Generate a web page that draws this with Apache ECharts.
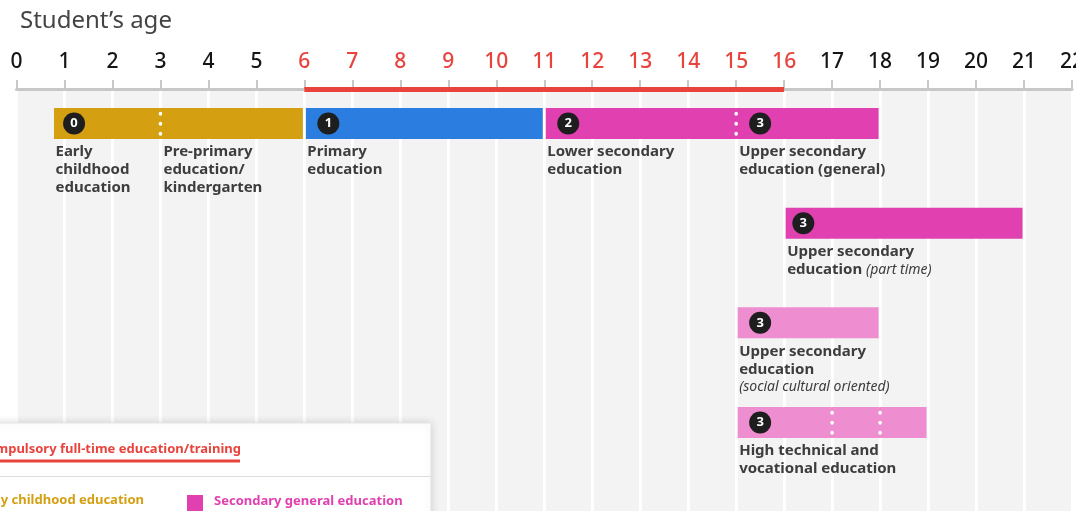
<!DOCTYPE html>
<html>
<head>
<meta charset="utf-8">
<script src="https://cdn.jsdelivr.net/npm/echarts@6/dist/echarts.min.js"></script>
<style>
  html, body { margin: 0; padding: 0; background: #fff; }
  #chart { width: 1076px; height: 511px; }
</style>
</head>
<body>
<div id="chart"></div>
<script>
// ages on the top axis
const ageMin = 0;
const ageMax = 22;
const compulsoryFrom = 6;
const compulsoryTo = 16;

// bars: start age, end age, row, kind
const barStart = [0.75, 6, 11, 16, 15, 15];
const barEnd = [6, 11, 18, 21, 18, 19];
const barRow = [0, 0, 0, 1, 2, 3];
const barKind = ['early', 'primary', 'secondary', 'secondary', 'vocational', 'vocational'];

// ISCED level badges
const badgeAge = [1.2, 6.5, 11.5, 15.5, 16.4, 15.5, 15.5];
const badgeRow = [0, 0, 0, 0, 1, 2, 3];
const badgeLevel = [0, 1, 2, 3, 3, 3, 3];

// dotted splits inside a bar
const splitAge = [3, 15, 17, 18];
const splitRow = [0, 0, 3, 3];

// labels under the bars
const labelAge = [0.75, 3, 6, 11, 15, 16, 15, 15];
const labelRow = [0, 0, 0, 0, 0, 1, 2, 3];
const labelText = [
  'Early\nchildhood\neducation',
  'Pre-primary\neducation/\nkindergarten',
  'Primary\neducation',
  'Lower secondary\neducation',
  'Upper secondary\neducation (general)',
  'Upper secondary\neducation {i|(part time)}',
  'Upper secondary\neducation\n{i|(social cultural oriented)}',
  'High technical and\nvocational education'
];

const kindColor = {
  early: '#d4a012',
  primary: '#2b7de0',
  secondary: '#e040b0',
  vocational: '#ee8dd0'
};
const red = '#e8433c';
const ink = '#3d3d3d';
const font = '"Noto Sans", sans-serif';

const chart = echarts.init(document.getElementById('chart'));

chart.setOption({
  animation: false,
  backgroundColor: '#fff',
  title: {
    text: 'Student’s age',
    left: 15,
    top: 4,
    textStyle: { fontFamily: font, fontSize: 24, fontWeight: 'normal', color: '#444' }
  },
  grid: {
    left: 16.5, right: 4, top: 89, bottom: 0,
    outerBoundsMode: 'none',
    containLabel: false,
    show: true, backgroundColor: '#f3f3f3', borderWidth: 0
  },
  xAxis: {
    type: 'value',
    position: 'top',
    min: ageMin, max: ageMax, interval: 1,
    axisLine: { show: true, onZero: false, lineStyle: { color: '#c8c8c8', width: 3 } },
    axisTick: { show: true, length: 9, lineStyle: { color: '#c8c8c8', width: 2 } },
    axisLabel: {
      margin: 16,
      fontFamily: font,
      fontSize: 21,
      fontWeight: 500,
      color: function (v) {
        return v >= compulsoryFrom && v <= compulsoryTo ? red : '#151515';
      }
    },
    splitLine: { show: true, lineStyle: { color: '#ffffff', width: 3 } }
  },
  yAxis: {
    type: 'value',
    inverse: true,
    min: -0.346, max: 3.888,
    show: false
  },
  series: [
    {
      type: 'custom',
      name: 'bars',
      clip: false,
      data: barStart.map((s, i) => [s, barEnd[i], barRow[i], i]),
      renderItem: function (params, api) {
        const a = api.coord([api.value(0), api.value(2)]);
        const b = api.coord([api.value(1), api.value(2)]);
        const h = 31;
        return {
          type: 'rect',
          shape: { x: a[0] + 1.5, y: a[1] - h / 2, width: b[0] - a[0] - 3, height: h },
          style: { fill: kindColor[barKind[api.value(3)]] }
        };
      }
    },
    {
      type: 'custom',
      name: 'splits',
      clip: false,
      data: splitAge.map((s, i) => [s, splitRow[i]]),
      renderItem: function (params, api) {
        const p = api.coord([api.value(0), api.value(1)]);
        return {
          type: 'line',
          shape: { x1: p[0], y1: p[1] - 10, x2: p[0], y2: p[1] + 11 },
          style: { stroke: '#fff', lineWidth: 3.5, lineCap: 'round', lineDash: [0.5, 9.5] }
        };
      }
    },
    {
      type: 'scatter',
      name: 'levels',
      symbol: 'circle',
      symbolSize: 22,
      itemStyle: { color: '#1e1e1e', opacity: 1 },
      label: {
        show: true, position: 'inside',
        formatter: p => String(p.value[2]),
        color: '#fff', fontFamily: font, fontSize: 13, fontWeight: 'bold'
      },
      data: badgeAge.map((s, i) => [s, badgeRow[i], badgeLevel[i]])
    },
    {
      type: 'custom',
      name: 'labels',
      clip: false,
      data: labelAge.map((s, i) => [s, labelRow[i], i]),
      renderItem: function (params, api) {
        const p = api.coord([api.value(0), api.value(1)]);
        return {
          type: 'text',
          x: p[0] + 3,
          y: p[1] + 19.5,
          style: {
            text: labelText[api.value(2)],
            fill: ink,
            font: 'bold 15px ' + font,
            lineHeight: 18,
            verticalAlign: 'top',
            align: 'left',
            rich: {
              i: { fontStyle: 'italic', fontWeight: 'normal', fontSize: 14, lineHeight: 18, fontFamily: font, fill: ink, color: ink }
            }
          }
        };
      }
    },
    {
      type: 'custom',
      name: 'compulsory',
      clip: false,
      z: 5,
      data: [[compulsoryFrom, compulsoryTo]],
      renderItem: function (params, api) {
        const a = api.coord([api.value(0), 0]);
        const b = api.coord([api.value(1), 0]);
        const y = params.coordSys.y;
        return {
          type: 'line',
          shape: { x1: a[0], y1: y + 0.5, x2: b[0], y2: y + 0.5 },
          style: { stroke: red, lineWidth: 5 }
        };
      }
    }
  ],
  graphic: [
    {
      type: 'rect',
      shape: { x: -10, y: 423, width: 441, height: 110 },
      style: { fill: '#fff', stroke: '#e4e4e4', lineWidth: 1, shadowBlur: 8, shadowColor: 'rgba(0,0,0,0.15)' },
      z: 10
    },
    {
      type: 'text',
      x: 241, y: 449,
      style: { text: 'Compulsory full-time education/training', fill: red, font: 'bold 13px ' + font, align: 'right', verticalAlign: 'middle' },
      z: 11
    },
    {
      type: 'line',
      shape: { x1: -10, y1: 461, x2: 240, y2: 461 },
      style: { stroke: red, lineWidth: 3 },
      z: 11
    },
    {
      type: 'line',
      shape: { x1: -10, y1: 476.5, x2: 431, y2: 476.5 },
      style: { stroke: '#dedede', lineWidth: 1 },
      z: 11
    },
    {
      type: 'text',
      x: 144, y: 500,
      style: { text: 'Early childhood education', fill: kindColor.early, font: 'bold 13px ' + font, align: 'right', verticalAlign: 'middle' },
      z: 11
    },
    {
      type: 'rect',
      shape: { x: 187, y: 495, width: 16, height: 16 },
      style: { fill: kindColor.secondary },
      z: 11
    },
    {
      type: 'text',
      x: 214, y: 501,
      style: { text: 'Secondary general education', fill: kindColor.secondary, font: 'bold 13px ' + font, align: 'left', verticalAlign: 'middle' },
      z: 11
    }
  ]
});
</script>
</body>
</html>
